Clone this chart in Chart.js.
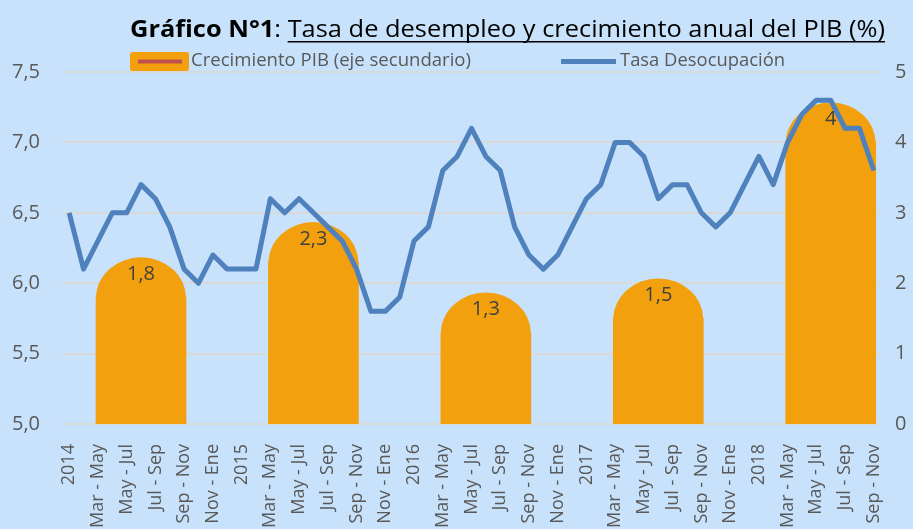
<!DOCTYPE html>
<html>
<head>
<meta charset="utf-8">
<script src="https://cdn.jsdelivr.net/npm/chart.js@4.4.1/dist/chart.umd.min.js"></script>
<style>
  html, body { margin: 0; padding: 0; background: #C7E2FA; }
  canvas { display: block; }
</style>
</head>
<body>
<canvas id="grafico" width="913" height="529"></canvas>
<script>
const years = ['2014', '2015', '2016', '2017', '2018'];
const periods = ['Ene - Mar', 'Feb - Abr', 'Mar - May', 'Abr - Jun', 'May - Jul', 'Jun - Ago',
                 'Jul - Sep', 'Ago - Oct', 'Sep - Nov', 'Oct - Dic', 'Nov - Ene', 'Dic - Feb'];

// Tasa de desocupación (%), trimestres móviles desde Ene-Mar 2014 hasta Sep-Nov 2018
const desocupacion = [
  6.5, 6.1, 6.3, 6.5, 6.5, 6.7, 6.6, 6.4, 6.1, 6.0, 6.2, 6.1,
  6.1, 6.1, 6.6, 6.5, 6.6, 6.5, 6.4, 6.3, 6.1, 5.8, 5.8, 5.9,
  6.3, 6.4, 6.8, 6.9, 7.1, 6.9, 6.8, 6.4, 6.2, 6.1, 6.2, 6.4,
  6.6, 6.7, 7.0, 7.0, 6.9, 6.6, 6.7, 6.7, 6.5, 6.4, 6.5, 6.7,
  6.9, 6.7, 7.0, 7.2, 7.3, 7.3, 7.1, 7.1, 6.8
];

// Crecimiento anual del PIB (%), eje secundario
const pibValues = [1.8, 2.3, 1.3, 1.5, 4];
const pibPeriod = 'Jun - Ago';

const leftTicks = { min: 5, max: 7.5, step: 0.5 };
const rightTicks = { min: 0, max: 5, step: 1 };

// categorias: primer trimestre de cada año se rotula con el año
const categories = [];
years.forEach(y => periods.forEach((p, k) => categories.push(k === 0 ? y : p)));
categories.length = desocupacion.length;

const pibSeries = categories.map(() => null);
years.forEach((y, k) => {
  pibSeries[categories.indexOf(y) + periods.indexOf(pibPeriod)] = pibValues[k];
});

const ORANGE = '#F3A00E';
const BLUE = '#4F81BD';
const GREY_TEXT = '#595959';
const FONT = '"Open Sans", sans-serif';

Chart.defaults.font.family = FONT;
Chart.defaults.color = GREY_TEXT;

function scaledText(ctx, text, x, y, width) {
  const w = ctx.measureText(text).width;
  ctx.save();
  ctx.translate(x, y);
  ctx.scale(width / w, 1);
  ctx.fillText(text, 0, 0);
  ctx.restore();
}

const adornos = {
  id: 'adornos',
  afterDatasetDraw(chart, args) {
    if (chart.data.datasets[args.index].type !== 'bar') return;
    const ctx = chart.ctx;
    ctx.save();
    ctx.fillStyle = ORANGE;
    args.meta.data.forEach((bar, i) => {
      if (pibSeries[i] == null) return;
      ctx.beginPath();
      ctx.ellipse(bar.x, bar.y + 1, bar.width / 2, 41, 0, Math.PI, 2 * Math.PI);
      ctx.fill();
    });
    ctx.restore();
  },
  afterDatasetsDraw(chart) {
    const ctx = chart.ctx;
    const meta = chart.getDatasetMeta(1);
    ctx.save();
    ctx.font = '20px ' + FONT;
    ctx.fillStyle = '#404040';
    ctx.textAlign = 'center';
    ctx.textBaseline = 'middle';
    meta.data.forEach((bar, i) => {
      if (pibSeries[i] == null) return;
      ctx.fillText(String(pibSeries[i]).replace('.', ','), bar.x, bar.y - 23);
    });
    ctx.restore();
  },
  afterDraw(chart) {
    const ctx = chart.ctx;
    ctx.save();
    // titulo
    const bold = 'Gráfico N°1';
    const sep = ': ';
    const rest = 'Tasa de desempleo y crecimiento anual del PIB (%)';
    ctx.font = 'bold 23px ' + FONT;
    const wB = ctx.measureText(bold).width;
    ctx.font = '23px ' + FONT;
    const wS = ctx.measureText(sep).width;
    const wR = ctx.measureText(rest).width;
    const sx = 755 / (wB + wS + wR);
    ctx.save();
    ctx.translate(130, 37);
    ctx.scale(sx, 1);
    ctx.fillStyle = '#000';
    ctx.font = 'bold 23px ' + FONT;
    ctx.fillText(bold, 0, 0);
    ctx.font = '23px ' + FONT;
    ctx.fillText(sep, wB, 0);
    ctx.fillText(rest, wB + wS, 0);
    ctx.fillRect(wB + wS, 4, wR, 1.5);
    ctx.restore();

    // leyenda
    ctx.fillStyle = ORANGE;
    ctx.beginPath();
    if (ctx.roundRect) ctx.roundRect(130, 52, 59, 19, 3); else ctx.rect(130, 52, 59, 19);
    ctx.fill();
    ctx.strokeStyle = '#C0504D';
    ctx.lineWidth = 4;
    ctx.beginPath();
    ctx.moveTo(138, 61.5);
    ctx.lineTo(182, 61.5);
    ctx.stroke();
    ctx.strokeStyle = BLUE;
    ctx.lineWidth = 5;
    ctx.beginPath();
    ctx.moveTo(561, 61.5);
    ctx.lineTo(616, 61.5);
    ctx.stroke();

    ctx.fillStyle = GREY_TEXT;
    ctx.font = '19px ' + FONT;
    ctx.textBaseline = 'middle';
    scaledText(ctx, 'Crecimiento PIB (eje secundario)', 191, 61, 280);
    scaledText(ctx, 'Tasa Desocupación', 620, 61, 165);
    ctx.restore();
  }
};

new Chart(document.getElementById('grafico'), {
  type: 'bar',
  data: {
    labels: categories,
    datasets: [{
      type: 'line',
      label: 'Tasa Desocupación',
      data: desocupacion,
      yAxisID: 'y',
      borderColor: BLUE,
      borderWidth: 5,
      pointRadius: 0,
      tension: 0,
      borderJoinStyle: 'round',
      order: 0
    }, {
      type: 'bar',
      label: 'Crecimiento PIB (eje secundario)',
      data: pibSeries,
      yAxisID: 'y1',
      backgroundColor: ORANGE,
      barThickness: 90,
      order: 1
    }]
  },
  options: {
    responsive: false,
    animation: false,
    layout: { padding: { top: 72 } },
    plugins: {
      legend: { display: false },
      tooltip: { enabled: false }
    },
    scales: {
      x: {
        offset: true,
        grid: { display: false },
        border: { display: false },
        ticks: {
          autoSkip: false,
          minRotation: 90,
          maxRotation: 90,
          padding: 12,
          font: { size: 18 },
          callback: (v, i) => i % 2 === 0 ? categories[i] : ''
        },
        afterFit: s => { s.height = 105; }
      },
      y: {
        position: 'left',
        min: leftTicks.min,
        max: leftTicks.max,
        grid: { color: '#D9D9D9', lineWidth: 2, drawTicks: false },
        border: { display: false },
        ticks: {
          stepSize: leftTicks.step,
          padding: 22,
          font: { size: 20 },
          callback: v => v.toFixed(1).replace('.', ',')
        },
        afterFit: s => { s.width = 62; }
      },
      y1: {
        position: 'right',
        min: rightTicks.min,
        max: rightTicks.max,
        grid: { display: false, drawTicks: false },
        border: { display: false },
        ticks: {
          stepSize: rightTicks.step,
          padding: 14,
          font: { size: 20 }
        },
        afterFit: s => { s.width = 32; }
      }
    }
  },
  plugins: [adornos]
});
</script>
</body>
</html>
